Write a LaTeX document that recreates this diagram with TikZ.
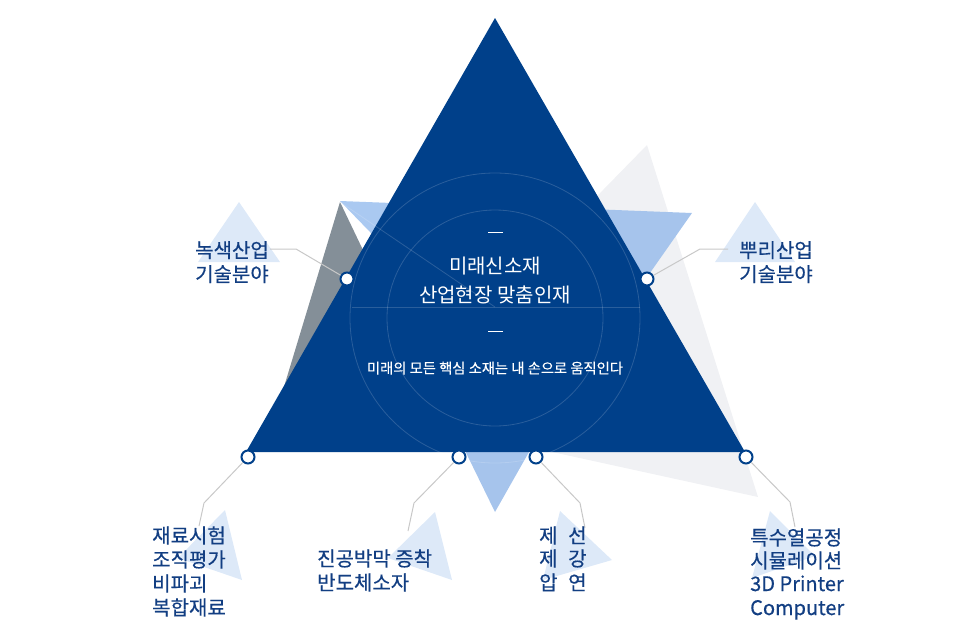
\documentclass[tikz,border=0pt]{standalone}
\usepackage{fontspec}
\setmainfont{Noto Sans CJK KR}
\newfontfamily\lblfont[FakeBold=0.45]{Noto Sans CJK KR}
\newfontfamily\subfont[FakeBold=0.2]{Noto Sans CJK KR}
\definecolor{mainblue}{RGB}{0,64,138}
\definecolor{labelblue}{RGB}{18,62,130}
\definecolor{paleblue}{RGB}{221,233,248}
\definecolor{midblue}{RGB}{166,196,236}
\definecolor{topblue}{RGB}{170,201,241}
\definecolor{graytri}{RGB}{132,143,152}
\definecolor{slatetri}{RGB}{92,116,146}
\definecolor{lightgraytri}{RGB}{240,241,244}
\definecolor{conngray}{RGB}{200,200,200}
\begin{document}
\begin{tikzpicture}[x=1pt,y=-1pt,
  dotnode/.style={circle,fill=white,draw=mainblue,line width=2pt,minimum size=13pt,inner sep=0pt},
  lbl/.style={anchor=base west,inner sep=0pt,text=labelblue,font=\lblfont\fontsize{20}{24}\selectfont},
  title/.style={anchor=base,inner sep=0pt,text=white,font=\fontsize{20}{24}\selectfont},
  conn/.style={draw=conngray,line width=1pt},
  faint/.style={draw=white,draw opacity=0.16,line width=0.8pt},
  labeltri/.style={fill=paleblue}]
\useasboundingbox (0,0) rectangle (980,633);
% background shapes
\fill[lightgraytri] (647,145) -- (758,497) -- (383,415) -- cycle;
\fill[midblue] (590,209) -- (692,213) -- (645,280) -- cycle;
\fill[graytri] (340,202) -- (385,296) -- (270,433) -- cycle;
\fill[topblue] (340,201) -- (392,203) -- (400,263) -- cycle;
\begin{scope}
  \clip (340,202) -- (385,296) -- (270,433) -- cycle;
  \fill[slatetri] (340,201) -- (392,203) -- (400,263) -- cycle;
\end{scope}
\fill[midblue] (451,422) -- (546,422) -- (495,512) -- cycle;
% main triangle
\fill[mainblue] (495,18) -- (745,452) -- (246,452) -- cycle;
% circles and lines
\draw[faint] (495,318) circle[radius=145pt];
\draw[faint] (495,318) circle[radius=108pt];
\draw[faint] (352,307) -- (640,307);
\draw[faint] (340,202) -- (495,307);
\draw[white,line width=0.8pt] (488,232) -- (503,232);
\draw[white,line width=0.8pt] (488,331) -- (503,331);
% center texts
\node[title] (t1) at (495,273.6) {미래신소재};
\node[title] (t2) at (495,302.6) {산업현장 맞춤인재};
\node[title,font=\subfont\fontsize{14.3}{17}\selectfont] (t3) at (495,373.4) {미래의 모든 핵심 소재는 내 손으로 움직인다};
% label triangles
\fill[labeltri] (239,202) -- (198,262) -- (280,262) -- cycle;
\fill[labeltri] (755,202) -- (715,262) -- (795,262) -- cycle;
\fill[labeltri] (225,510) -- (242,580) -- (178,558) -- cycle;
\fill[labeltri] (435,512) -- (452,580) -- (388,558) -- cycle;
\fill[labeltri] (560,511) -- (612,560) -- (543,580) -- cycle;
\fill[labeltri] (770,511) -- (752,578) -- (815,556) -- cycle;
% dots
\node[dotnode] (d1) at (347,279) {};
\node[dotnode] (d2) at (647,279) {};
\node[dotnode] (d3) at (248,457) {};
\node[dotnode] (d4) at (459,457) {};
\node[dotnode] (d5) at (536,457) {};
\node[dotnode] (d6) at (746,457) {};
% connector bends
\coordinate (c1a) at (296,249); \coordinate (c1b) at (270,249);
\coordinate (c2a) at (700,249); \coordinate (c2b) at (728,249);
\coordinate (c3a) at (204,503); \coordinate (c3b) at (199,526);
\coordinate (c4a) at (414,503); \coordinate (c4b) at (408,531);
\coordinate (c5a) at (580,503); \coordinate (c5b) at (585,528);
\coordinate (c6a) at (790,502); \coordinate (c6b) at (795,527);
\draw[conn] (d1) -- (c1a) -- (c1b);
\draw[conn] (d2) -- (c2a) -- (c2b);
\draw[conn] (d3) -- (c3a) -- (c3b);
\draw[conn] (d4) -- (c4a) -- (c4b);
\draw[conn] (d5) -- (c5a) -- (c5b);
\draw[conn] (d6) -- (c6a) -- (c6b);
% labels
\node[lbl] (l1a) at (195,257.6) {녹색산업};
\node[lbl] (l1b) at (195,281.6) {기술분야};
\node[lbl] (l2a) at (739,257.6) {뿌리산업};
\node[lbl] (l2b) at (739,281.6) {기술분야};
\node[lbl] (l3a) at (152,543) {재료시험};
\node[lbl] (l3b) at (152,567) {조직평가};
\node[lbl] (l3c) at (152,591) {비파괴};
\node[lbl] (l3d) at (152,615) {복합재료};
\node[lbl] (l4a) at (317,566) {진공박막 증착};
\node[lbl] (l4b) at (317,590) {반도체소자};
\node[lbl] (l5a) at (539,543) {제};
\node[lbl] (l5b) at (568,543) {선};
\node[lbl] (l5c) at (539,566) {제};
\node[lbl] (l5d) at (568,566) {강};
\node[lbl] (l5e) at (539,590) {압};
\node[lbl] (l5f) at (568,590) {연};
\node[lbl] (l6a) at (750,545) {특수열공정};
\node[lbl] (l6b) at (750,568) {시뮬레이션};
\node[lbl] (l6c) at (750,591) {3D Printer};
\node[lbl] (l6d) at (750,615) {Computer};
\end{tikzpicture}
\end{document}
